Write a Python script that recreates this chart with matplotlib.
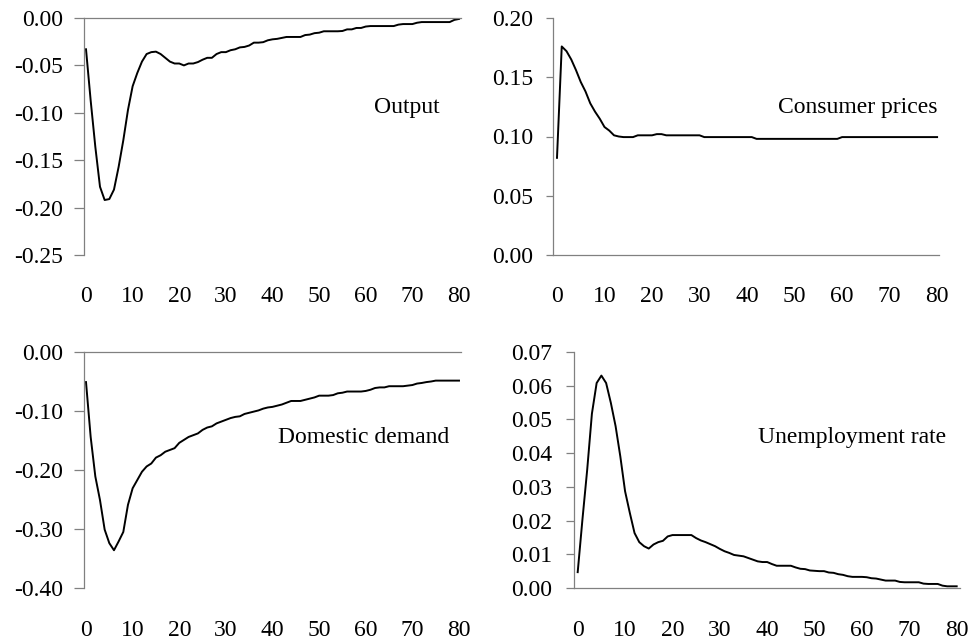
import matplotlib
matplotlib.use("Agg")
import matplotlib.pyplot as plt

plt.rcParams['font.family'] = ['Liberation Serif', 'DejaVu Serif']
FS = 17

# -------------------------------
# Data
# -------------------------------
quarters = list(range(81))

output = [
    -0.033, -0.087, -0.136, -0.178, -0.192, -0.191, -0.181, -0.157, -0.129, -0.097,
    -0.072, -0.058, -0.046, -0.038, -0.036, -0.0355, -0.038, -0.042, -0.046, -0.048,
    -0.048, -0.050, -0.048, -0.048, -0.0465, -0.044, -0.042, -0.042, -0.038, -0.036,
    -0.036, -0.034, -0.033, -0.031, -0.0305, -0.029, -0.026, -0.026, -0.0255, -0.0235,
    -0.0225, -0.022, -0.021, -0.020, -0.020, -0.020, -0.020, -0.018, -0.0175, -0.016,
    -0.0155, -0.014, -0.014, -0.014, -0.014, -0.0137, -0.012, -0.012, -0.0105, -0.0105,
    -0.009, -0.0085, -0.0085, -0.0085, -0.0085, -0.0085, -0.0085, -0.007, -0.0064, -0.0064,
    -0.0064, -0.005, -0.0043, -0.0043, -0.0043, -0.0043, -0.0043, -0.0043, -0.0043, -0.002,
    -0.001,
]

consumer_prices = [
    0.082, 0.176, 0.172, 0.165, 0.156, 0.146, 0.138, 0.128, 0.121, 0.115,
    0.108, 0.105, 0.101, 0.100, 0.0995, 0.0995, 0.0995, 0.101, 0.101, 0.101,
    0.101, 0.102, 0.102, 0.101, 0.101, 0.101, 0.101, 0.101, 0.101, 0.101,
    0.101, 0.0995, 0.0995, 0.0995, 0.0995, 0.0995, 0.0995, 0.0995, 0.0995, 0.0995,
    0.0995, 0.0995, 0.098, 0.098, 0.098, 0.098, 0.098, 0.098, 0.098, 0.098,
    0.098, 0.098, 0.098, 0.098, 0.098, 0.098, 0.098, 0.098, 0.098, 0.098,
    0.0995, 0.0995, 0.0995, 0.0995, 0.0995, 0.0995, 0.0995, 0.0995, 0.0995, 0.0995,
    0.0995, 0.0995, 0.0995, 0.0995, 0.0995, 0.0995, 0.0995, 0.0995, 0.0995, 0.0995,
    0.0995,
]

domestic_demand = [
    -0.051, -0.144, -0.211, -0.251, -0.301, -0.324, -0.336, -0.321, -0.305, -0.259,
    -0.231, -0.217, -0.203, -0.194, -0.189, -0.179, -0.175, -0.169, -0.166, -0.163,
    -0.154, -0.149, -0.144, -0.141, -0.138, -0.132, -0.128, -0.126, -0.121, -0.118,
    -0.115, -0.112, -0.110, -0.109, -0.105, -0.103, -0.101, -0.099, -0.096, -0.094,
    -0.093, -0.091, -0.089, -0.086, -0.083, -0.083, -0.083, -0.081, -0.079, -0.077,
    -0.074, -0.074, -0.074, -0.073, -0.070, -0.069, -0.067, -0.067, -0.067, -0.067,
    -0.066, -0.064, -0.061, -0.060, -0.060, -0.058, -0.058, -0.058, -0.058, -0.057,
    -0.056, -0.0535, -0.0525, -0.051, -0.050, -0.0485, -0.0485, -0.0485, -0.0485, -0.0485,
    -0.0485,
]

unemployment = [
    0.0047, 0.0203, 0.035, 0.0517, 0.0608, 0.063, 0.0608, 0.0549, 0.048, 0.039,
    0.0287, 0.0223, 0.0163, 0.0136, 0.0124, 0.0117, 0.0129, 0.0136, 0.014, 0.0153,
    0.0157, 0.0157, 0.0157, 0.0157, 0.0157, 0.0148, 0.0141, 0.0136, 0.013, 0.0124,
    0.0116, 0.0109, 0.0104, 0.0098, 0.0096, 0.0094, 0.0089, 0.0084, 0.0079, 0.0077,
    0.0077, 0.0071, 0.0066, 0.0066, 0.0066, 0.0066, 0.0061, 0.0057, 0.0056, 0.0052,
    0.0051, 0.005, 0.005, 0.0046, 0.0045, 0.0041, 0.0039, 0.0035, 0.0033, 0.0033,
    0.0033, 0.0032, 0.0029, 0.0028, 0.0025, 0.0022, 0.0022, 0.0022, 0.0018, 0.0017,
    0.0017, 0.0017, 0.0017, 0.0013, 0.0012, 0.0012, 0.0012, 0.0007, 0.0005, 0.0005,
    0.0005,
]

x_ticks = [0, 10, 20, 30, 40, 50, 60, 70, 80]

# -------------------------------
# Figure
# -------------------------------
W, H = 973, 639
fig = plt.figure(figsize=(W / 100, H / 100), dpi=100)
axis_grey = '#808080'


def px_axes(x0, x1, y0, y1):
    # pixel box -> figure fraction
    return fig.add_axes([x0 / W, 1 - y1 / H, (x1 - x0) / W, (y1 - y0) / H])


def style(ax, zero_on_top, xlim, ylim, yticks, label, lab_x, lab_y, tick_len, ypad, xpad):
    ax.set_xlim(*xlim)
    ax.set_ylim(*ylim)
    for s in ax.spines.values():
        s.set_visible(False)
    ax.spines['left'].set_visible(True)
    ax.spines['top' if zero_on_top else 'bottom'].set_visible(True)
    for s in ('left', 'top', 'bottom'):
        ax.spines[s].set_color(axis_grey)
        ax.spines[s].set_linewidth(0.9)
    ax.set_yticks(yticks)
    ax.set_yticklabels([f"{v:.2f}" for v in yticks])
    ax.set_xticks(x_ticks)
    ax.tick_params(axis='y', direction='out', length=tick_len, width=0.9,
                   color=axis_grey, pad=ypad, labelsize=FS)
    ax.tick_params(axis='x', length=0, pad=xpad, labelsize=FS)
    ax.text(lab_x, lab_y, label, transform=ax.transAxes, ha='right', va='center',
            fontsize=FS)
    ax.patch.set_visible(False)


ax1 = px_axes(84, 461, 18, 255)
ax1.plot(quarters, output, color='black', lw=1.4)
style(ax1, True, (-0.43, 80.43), (-0.25, 0.0), [0.0, -0.05, -0.10, -0.15, -0.20, -0.25],
      'Output', 0.944, 0.624, 7, 8, 22)

ax2 = px_axes(553, 939, 18, 255)
ax2.plot(quarters, consumer_prices, color='black', lw=1.4)
style(ax2, False, (-0.84, 80.4), (0.0, 0.20), [0.0, 0.05, 0.10, 0.15, 0.20],
      'Consumer prices', 0.995, 0.624, 5, 9, 22)

ax3 = px_axes(84, 461, 352, 588)
ax3.plot(quarters, domestic_demand, color='black', lw=1.4)
style(ax3, True, (-0.43, 80.43), (-0.40, 0.0), [0.0, -0.10, -0.20, -0.30, -0.40],
      'Domestic demand', 0.968, 0.636, 7, 8, 23)

ax4 = px_axes(574, 960, 352, 588)
ax4.plot(quarters, unemployment, color='black', lw=1.4)
style(ax4, False, (-0.78, 80.7), (0.0, 0.07),
      [0.0, 0.01, 0.02, 0.03, 0.04, 0.05, 0.06, 0.07],
      'Unemployment rate', 0.964, 0.636, 6, 9.5, 23)

fig.savefig('out.png', dpi=100)
